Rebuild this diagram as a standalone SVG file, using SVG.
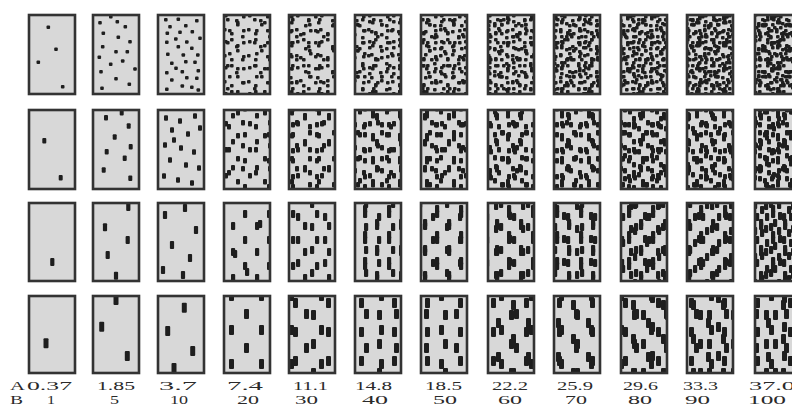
<svg xmlns="http://www.w3.org/2000/svg" width="792" height="407" viewBox="0 0 792 407">
<style>
.bg{fill:#d8d8d8}
.fr{fill:none;stroke:#333;stroke-width:2.6}
.d{fill:#1e1e1e}
.t{font-family:"Liberation Serif","Times New Roman",serif;font-size:12px;fill:#2a2a2a}
</style>
<defs>
<pattern id="p1a" width="24" height="26" patternUnits="userSpaceOnUse"><g class="d"><rect x="2" y="3" width="3.6" height="3.6" rx="1"/><rect x="14" y="6" width="3.6" height="3.6" rx="1"/><rect x="8" y="14" width="3.6" height="3.6" rx="1"/><rect x="19" y="19" width="3.6" height="3.6" rx="1"/></g></pattern>
<pattern id="p1b" width="27" height="23" patternUnits="userSpaceOnUse"><g class="d"><rect x="5" y="2" width="3.6" height="3.6" rx="1"/><rect x="18" y="8" width="3.6" height="3.6" rx="1"/><rect x="3" y="14" width="3.6" height="3.6" rx="1"/><rect x="13" y="17" width="3.6" height="3.6" rx="1"/></g></pattern>
<pattern id="p2a" width="24" height="26" patternUnits="userSpaceOnUse"><g class="d"><rect x="3" y="2" width="4" height="5.6" rx="1"/><rect x="15" y="9" width="4" height="5.6" rx="1"/><rect x="8" y="17" width="4" height="5.6" rx="1"/></g></pattern>
<pattern id="p2b" width="27" height="23" patternUnits="userSpaceOnUse"><g class="d"><rect x="4" y="5" width="4" height="5.6" rx="1"/><rect x="18" y="1" width="4" height="5.6" rx="1"/><rect x="13" y="14" width="4" height="5.6" rx="1"/></g></pattern>
<pattern id="p3a" width="24" height="26" patternUnits="userSpaceOnUse"><g class="d"><rect x="3" y="2" width="4.2" height="8" rx="1"/><rect x="15" y="14" width="4.2" height="8" rx="1"/></g></pattern>
<pattern id="p3b" width="27" height="23" patternUnits="userSpaceOnUse"><g class="d"><rect x="6" y="12" width="4.2" height="8" rx="1"/><rect x="19" y="2" width="4.2" height="8" rx="1"/></g></pattern>
<pattern id="p4a" width="30" height="34" patternUnits="userSpaceOnUse"><g class="d"><rect x="4" y="3" width="5" height="10" rx="1"/><rect x="19" y="19" width="5" height="10" rx="1"/></g></pattern>
<pattern id="p4b" width="33" height="29" patternUnits="userSpaceOnUse"><g class="d"><rect x="22" y="4" width="5" height="10" rx="1"/><rect x="7" y="16" width="5" height="10" rx="1"/></g></pattern>
</defs>
<rect width="792" height="407" fill="#fff"/>

<g id="panels-bg" class="bg">
<rect x="29" y="15" width="46" height="79"/><rect x="93" y="15" width="46" height="79"/><rect x="158" y="15" width="46" height="79"/><rect x="224" y="15" width="46" height="79"/><rect x="289" y="15" width="46" height="79"/><rect x="355" y="15" width="46" height="79"/><rect x="421" y="15" width="46" height="79"/><rect x="488" y="15" width="46" height="79"/><rect x="554" y="15" width="46" height="79"/><rect x="621" y="15" width="46" height="79"/><rect x="687" y="15" width="46" height="79"/><rect x="755" y="15" width="46" height="79"/>
<rect x="29" y="110" width="46" height="79"/><rect x="93" y="110" width="46" height="79"/><rect x="158" y="110" width="46" height="79"/><rect x="224" y="110" width="46" height="79"/><rect x="289" y="110" width="46" height="79"/><rect x="355" y="110" width="46" height="79"/><rect x="421" y="110" width="46" height="79"/><rect x="488" y="110" width="46" height="79"/><rect x="554" y="110" width="46" height="79"/><rect x="621" y="110" width="46" height="79"/><rect x="687" y="110" width="46" height="79"/><rect x="755" y="110" width="46" height="79"/>
<rect x="29" y="203" width="46" height="78"/><rect x="93" y="203" width="46" height="78"/><rect x="158" y="203" width="46" height="78"/><rect x="224" y="203" width="46" height="78"/><rect x="289" y="203" width="46" height="78"/><rect x="355" y="203" width="46" height="78"/><rect x="421" y="203" width="46" height="78"/><rect x="488" y="203" width="46" height="78"/><rect x="554" y="203" width="46" height="78"/><rect x="621" y="203" width="46" height="78"/><rect x="687" y="203" width="46" height="78"/><rect x="755" y="203" width="46" height="78"/>
<rect x="29" y="296" width="46" height="77"/><rect x="93" y="296" width="46" height="77"/><rect x="158" y="296" width="46" height="77"/><rect x="224" y="296" width="46" height="77"/><rect x="289" y="296" width="46" height="77"/><rect x="355" y="296" width="46" height="77"/><rect x="421" y="296" width="46" height="77"/><rect x="488" y="296" width="46" height="77"/><rect x="554" y="296" width="46" height="77"/><rect x="621" y="296" width="46" height="77"/><rect x="687" y="296" width="46" height="77"/><rect x="755" y="296" width="46" height="77"/>
</g>

<!-- Row 1 -->
<g id="r1c1" class="d">
<rect x="46.5" y="25.5" width="3.6" height="3.6" rx="1"/><rect x="54.2" y="47.5" width="3.6" height="3.6" rx="1"/><rect x="36.5" y="60.5" width="3.6" height="3.6" rx="1"/><rect x="60.9" y="84.9" width="3.6" height="3.6" rx="1"/>
</g>
<g id="r1c2" class="d">
<rect x="98.2" y="20.9" width="3.6" height="3.6" rx="1"/><rect x="115.5" y="19.9" width="3.6" height="3.6" rx="1"/><rect x="123.5" y="24.9" width="3.6" height="3.6" rx="1"/><rect x="101.5" y="31.5" width="3.6" height="3.6" rx="1"/><rect x="116.5" y="35.5" width="3.6" height="3.6" rx="1"/><rect x="128.2" y="39.9" width="3.6" height="3.6" rx="1"/><rect x="100.9" y="44.9" width="3.6" height="3.6" rx="1"/><rect x="114.2" y="49.9" width="3.6" height="3.6" rx="1"/><rect x="125.5" y="49.9" width="3.6" height="3.6" rx="1"/><rect x="97.5" y="55.5" width="3.6" height="3.6" rx="1"/><rect x="108.9" y="62.5" width="3.6" height="3.6" rx="1"/><rect x="120.9" y="59.2" width="3.6" height="3.6" rx="1"/><rect x="133.2" y="67.2" width="3.6" height="3.6" rx="1"/><rect x="99.2" y="69.9" width="3.6" height="3.6" rx="1"/><rect x="114.2" y="76.9" width="3.6" height="3.6" rx="1"/><rect x="127.5" y="82.5" width="3.6" height="3.6" rx="1"/><rect x="100.2" y="86.5" width="3.6" height="3.6" rx="1"/><rect x="109" y="15" width="3.6" height="3.6" rx="1"/>
</g>
<g id="r1c3" class="d">
<rect x="164" y="18" width="3.6" height="3.6" rx="1"/><rect x="176.5" y="17.5" width="3.6" height="3.6" rx="1"/><rect x="195" y="19" width="3.6" height="3.6" rx="1"/><rect x="168.2" y="25" width="3.6" height="3.6" rx="1"/><rect x="184" y="24" width="3.6" height="3.6" rx="1"/><rect x="165.5" y="31.5" width="3.6" height="3.6" rx="1"/><rect x="178.2" y="30.5" width="3.6" height="3.6" rx="1"/><rect x="190.5" y="30" width="3.6" height="3.6" rx="1"/><rect x="174" y="37.2" width="3.6" height="3.6" rx="1"/><rect x="198.2" y="36.5" width="3.6" height="3.6" rx="1"/><rect x="165" y="40.5" width="3.6" height="3.6" rx="1"/><rect x="185" y="40.2" width="3.6" height="3.6" rx="1"/><rect x="176.5" y="45" width="3.6" height="3.6" rx="1"/><rect x="190" y="46.5" width="3.6" height="3.6" rx="1"/><rect x="166" y="52.5" width="3.6" height="3.6" rx="1"/><rect x="181.5" y="53.2" width="3.6" height="3.6" rx="1"/><rect x="196" y="53.2" width="3.6" height="3.6" rx="1"/><rect x="184" y="60" width="3.6" height="3.6" rx="1"/><rect x="193.2" y="60.5" width="3.6" height="3.6" rx="1"/><rect x="170" y="61.5" width="3.6" height="3.6" rx="1"/><rect x="174.2" y="66.5" width="3.6" height="3.6" rx="1"/><rect x="165" y="71" width="3.6" height="3.6" rx="1"/><rect x="180.5" y="70" width="3.6" height="3.6" rx="1"/><rect x="196.5" y="69" width="3.6" height="3.6" rx="1"/><rect x="170" y="78.2" width="3.6" height="3.6" rx="1"/><rect x="185" y="76" width="3.6" height="3.6" rx="1"/><rect x="195" y="76.5" width="3.6" height="3.6" rx="1"/><rect x="180.5" y="84.2" width="3.6" height="3.6" rx="1"/><rect x="190" y="85.5" width="3.6" height="3.6" rx="1"/><rect x="165" y="87.5" width="3.6" height="3.6" rx="1"/><rect x="196.5" y="88.2" width="3.6" height="3.6" rx="1"/>
</g>
<g id="r1c4">
<rect x="225" y="16" width="44" height="77" fill="url(#p1a)"/>
<rect x="218" y="12" width="44" height="77" fill="url(#p1b)" transform="translate(7 4)"/>
<rect x="213" y="7" width="44" height="77" fill="url(#p1a)" transform="translate(12 9)"/>
</g>
<g id="r1c5">
<rect x="290" y="16" width="44" height="77" fill="url(#p1a)"/>
<rect x="283" y="12" width="44" height="77" fill="url(#p1b)" transform="translate(7 4)"/>
<rect x="278" y="7" width="44" height="77" fill="url(#p1a)" transform="translate(12 9)"/>
<rect x="274" y="0" width="44" height="77" fill="url(#p1b)" transform="translate(16 16)"/>
</g>
<g id="r1c6">
<rect x="356" y="16" width="44" height="77" fill="url(#p1a)"/>
<rect x="349" y="12" width="44" height="77" fill="url(#p1b)" transform="translate(7 4)"/>
<rect x="344" y="7" width="44" height="77" fill="url(#p1a)" transform="translate(12 9)"/>
<rect x="340" y="0" width="44" height="77" fill="url(#p1b)" transform="translate(16 16)"/>
<rect x="350" y="-1" width="44" height="77" fill="url(#p1a)" transform="translate(6 17)"/>
</g>
<g id="r1c7">
<rect x="422" y="16" width="44" height="77" fill="url(#p1a)"/>
<rect x="415" y="12" width="44" height="77" fill="url(#p1b)" transform="translate(7 4)"/>
<rect x="410" y="7" width="44" height="77" fill="url(#p1a)" transform="translate(12 9)"/>
<rect x="406" y="0" width="44" height="77" fill="url(#p1b)" transform="translate(16 16)"/>
<rect x="416" y="-1" width="44" height="77" fill="url(#p1a)" transform="translate(6 17)"/>
<rect x="397" y="6" width="44" height="77" fill="url(#p1b)" transform="translate(25 10)"/>
</g>
<g id="r1c8">
<rect x="489" y="16" width="44" height="77" fill="url(#p1a)"/>
<rect x="482" y="12" width="44" height="77" fill="url(#p1b)" transform="translate(7 4)"/>
<rect x="477" y="7" width="44" height="77" fill="url(#p1a)" transform="translate(12 9)"/>
<rect x="473" y="0" width="44" height="77" fill="url(#p1b)" transform="translate(16 16)"/>
<rect x="483" y="-1" width="44" height="77" fill="url(#p1a)" transform="translate(6 17)"/>
<rect x="464" y="6" width="44" height="77" fill="url(#p1b)" transform="translate(25 10)"/>
<rect x="471" y="13" width="44" height="77" fill="url(#p1a)" transform="translate(18 3)"/>
</g>
<g id="r1c9">
<rect x="555" y="16" width="44" height="77" fill="url(#p1a)"/>
<rect x="548" y="12" width="44" height="77" fill="url(#p1b)" transform="translate(7 4)"/>
<rect x="543" y="7" width="44" height="77" fill="url(#p1a)" transform="translate(12 9)"/>
<rect x="539" y="0" width="44" height="77" fill="url(#p1b)" transform="translate(16 16)"/>
<rect x="549" y="-1" width="44" height="77" fill="url(#p1a)" transform="translate(6 17)"/>
<rect x="530" y="6" width="44" height="77" fill="url(#p1b)" transform="translate(25 10)"/>
<rect x="537" y="13" width="44" height="77" fill="url(#p1a)" transform="translate(18 3)"/>
<rect x="545" y="-5" width="44" height="77" fill="url(#p1b)" transform="translate(10 21)"/>
</g>
<g id="r1c10">
<rect x="622" y="16" width="44" height="77" fill="url(#p1a)"/>
<rect x="615" y="12" width="44" height="77" fill="url(#p1b)" transform="translate(7 4)"/>
<rect x="610" y="7" width="44" height="77" fill="url(#p1a)" transform="translate(12 9)"/>
<rect x="606" y="0" width="44" height="77" fill="url(#p1b)" transform="translate(16 16)"/>
<rect x="616" y="-1" width="44" height="77" fill="url(#p1a)" transform="translate(6 17)"/>
<rect x="597" y="6" width="44" height="77" fill="url(#p1b)" transform="translate(25 10)"/>
<rect x="604" y="13" width="44" height="77" fill="url(#p1a)" transform="translate(18 3)"/>
<rect x="612" y="-5" width="44" height="77" fill="url(#p1b)" transform="translate(10 21)"/>
<rect x="619" y="4" width="44" height="77" fill="url(#p1a)" transform="translate(3 12)"/>
</g>
<g id="r1c11">
<rect x="688" y="16" width="44" height="77" fill="url(#p1a)"/>
<rect x="681" y="12" width="44" height="77" fill="url(#p1b)" transform="translate(7 4)"/>
<rect x="676" y="7" width="44" height="77" fill="url(#p1a)" transform="translate(12 9)"/>
<rect x="672" y="0" width="44" height="77" fill="url(#p1b)" transform="translate(16 16)"/>
<rect x="682" y="-1" width="44" height="77" fill="url(#p1a)" transform="translate(6 17)"/>
<rect x="663" y="6" width="44" height="77" fill="url(#p1b)" transform="translate(25 10)"/>
<rect x="670" y="13" width="44" height="77" fill="url(#p1a)" transform="translate(18 3)"/>
<rect x="678" y="-5" width="44" height="77" fill="url(#p1b)" transform="translate(10 21)"/>
<rect x="685" y="4" width="44" height="77" fill="url(#p1a)" transform="translate(3 12)"/>
<rect x="669" y="9" width="44" height="77" fill="url(#p1b)" transform="translate(19 7)"/>
</g>
<g id="r1c12">
<rect x="756" y="16" width="44" height="77" fill="url(#p1a)"/>
<rect x="749" y="12" width="44" height="77" fill="url(#p1b)" transform="translate(7 4)"/>
<rect x="744" y="7" width="44" height="77" fill="url(#p1a)" transform="translate(12 9)"/>
<rect x="740" y="0" width="44" height="77" fill="url(#p1b)" transform="translate(16 16)"/>
<rect x="750" y="-1" width="44" height="77" fill="url(#p1a)" transform="translate(6 17)"/>
<rect x="731" y="6" width="44" height="77" fill="url(#p1b)" transform="translate(25 10)"/>
<rect x="738" y="13" width="44" height="77" fill="url(#p1a)" transform="translate(18 3)"/>
<rect x="746" y="-5" width="44" height="77" fill="url(#p1b)" transform="translate(10 21)"/>
<rect x="753" y="4" width="44" height="77" fill="url(#p1a)" transform="translate(3 12)"/>
<rect x="737" y="9" width="44" height="77" fill="url(#p1b)" transform="translate(19 7)"/>
<rect x="741" y="-4" width="44" height="77" fill="url(#p1a)" transform="translate(15 20)"/>
</g>

<!-- Row 2 -->
<g id="r2c1" class="d">
<rect x="42.3" y="137.9" width="4" height="5.6" rx="1"/><rect x="58.7" y="174.9" width="4" height="5.6" rx="1"/>
</g>
<g id="r2c2" class="d">
<rect x="104" y="115" width="4" height="5.6" rx="1"/><rect x="119.7" y="110" width="4" height="5.6" rx="1"/><rect x="126.7" y="123.2" width="4" height="5.6" rx="1"/><rect x="112.7" y="134.2" width="4" height="5.6" rx="1"/><rect x="128.7" y="144" width="4" height="5.6" rx="1"/><rect x="104.7" y="149" width="4" height="5.6" rx="1"/><rect x="122.7" y="155.5" width="4" height="5.6" rx="1"/><rect x="101.7" y="167.2" width="4" height="5.6" rx="1"/><rect x="128.3" y="175.5" width="4" height="5.6" rx="1"/>
</g>
<g id="r2c3" class="d">
<rect x="164" y="115.2" width="4" height="5.6" rx="1"/><rect x="178" y="118.2" width="4" height="5.6" rx="1"/><rect x="193" y="113.2" width="4" height="5.6" rx="1"/><rect x="170" y="127.2" width="4" height="5.6" rx="1"/><rect x="186" y="131.2" width="4" height="5.6" rx="1"/><rect x="198" y="125.2" width="4" height="5.6" rx="1"/><rect x="163" y="142.2" width="4" height="5.6" rx="1"/><rect x="179" y="145.2" width="4" height="5.6" rx="1"/><rect x="192" y="149.2" width="4" height="5.6" rx="1"/><rect x="168" y="157.2" width="4" height="5.6" rx="1"/><rect x="184" y="162.2" width="4" height="5.6" rx="1"/><rect x="197" y="165.2" width="4" height="5.6" rx="1"/><rect x="162" y="173.2" width="4" height="5.6" rx="1"/><rect x="176" y="177.2" width="4" height="5.6" rx="1"/><rect x="190" y="180.2" width="4" height="5.6" rx="1"/><rect x="172" y="137.2" width="4" height="5.6" rx="1"/>
</g>
<g id="r2c4">
<rect x="225" y="111" width="44" height="77" fill="url(#p2a)"/>
<rect x="218" y="107" width="44" height="77" fill="url(#p2b)" transform="translate(7 4)"/>
</g>
<g id="r2c5">
<rect x="290" y="111" width="44" height="77" fill="url(#p2a)"/>
<rect x="283" y="107" width="44" height="77" fill="url(#p2b)" transform="translate(7 4)"/>
<rect x="278" y="102" width="44" height="77" fill="url(#p2a)" transform="translate(12 9)"/>
</g>
<g id="r2c6">
<rect x="356" y="111" width="44" height="77" fill="url(#p2a)"/>
<rect x="349" y="107" width="44" height="77" fill="url(#p2b)" transform="translate(7 4)"/>
<rect x="344" y="102" width="44" height="77" fill="url(#p2a)" transform="translate(12 9)"/>
<rect x="340" y="95" width="44" height="77" fill="url(#p2b)" transform="translate(16 16)"/>
</g>
<g id="r2c7">
<rect x="422" y="111" width="44" height="77" fill="url(#p2a)"/>
<rect x="415" y="107" width="44" height="77" fill="url(#p2b)" transform="translate(7 4)"/>
<rect x="410" y="102" width="44" height="77" fill="url(#p2a)" transform="translate(12 9)"/>
<rect x="406" y="95" width="44" height="77" fill="url(#p2b)" transform="translate(16 16)"/>
</g>
<g id="r2c8">
<rect x="489" y="111" width="44" height="77" fill="url(#p2a)"/>
<rect x="482" y="107" width="44" height="77" fill="url(#p2b)" transform="translate(7 4)"/>
<rect x="477" y="102" width="44" height="77" fill="url(#p2a)" transform="translate(12 9)"/>
<rect x="473" y="95" width="44" height="77" fill="url(#p2b)" transform="translate(16 16)"/>
<rect x="483" y="94" width="44" height="77" fill="url(#p2a)" transform="translate(6 17)"/>
</g>
<g id="r2c9">
<rect x="555" y="111" width="44" height="77" fill="url(#p2a)"/>
<rect x="548" y="107" width="44" height="77" fill="url(#p2b)" transform="translate(7 4)"/>
<rect x="543" y="102" width="44" height="77" fill="url(#p2a)" transform="translate(12 9)"/>
<rect x="539" y="95" width="44" height="77" fill="url(#p2b)" transform="translate(16 16)"/>
<rect x="549" y="94" width="44" height="77" fill="url(#p2a)" transform="translate(6 17)"/>
</g>
<g id="r2c10">
<rect x="622" y="111" width="44" height="77" fill="url(#p2a)"/>
<rect x="615" y="107" width="44" height="77" fill="url(#p2b)" transform="translate(7 4)"/>
<rect x="610" y="102" width="44" height="77" fill="url(#p2a)" transform="translate(12 9)"/>
<rect x="606" y="95" width="44" height="77" fill="url(#p2b)" transform="translate(16 16)"/>
<rect x="616" y="94" width="44" height="77" fill="url(#p2a)" transform="translate(6 17)"/>
<rect x="597" y="101" width="44" height="77" fill="url(#p2b)" transform="translate(25 10)"/>
</g>
<g id="r2c11">
<rect x="688" y="111" width="44" height="77" fill="url(#p2a)"/>
<rect x="681" y="107" width="44" height="77" fill="url(#p2b)" transform="translate(7 4)"/>
<rect x="676" y="102" width="44" height="77" fill="url(#p2a)" transform="translate(12 9)"/>
<rect x="672" y="95" width="44" height="77" fill="url(#p2b)" transform="translate(16 16)"/>
<rect x="682" y="94" width="44" height="77" fill="url(#p2a)" transform="translate(6 17)"/>
<rect x="663" y="101" width="44" height="77" fill="url(#p2b)" transform="translate(25 10)"/>
</g>
<g id="r2c12">
<rect x="756" y="111" width="44" height="77" fill="url(#p2a)"/>
<rect x="749" y="107" width="44" height="77" fill="url(#p2b)" transform="translate(7 4)"/>
<rect x="744" y="102" width="44" height="77" fill="url(#p2a)" transform="translate(12 9)"/>
<rect x="740" y="95" width="44" height="77" fill="url(#p2b)" transform="translate(16 16)"/>
<rect x="750" y="94" width="44" height="77" fill="url(#p2a)" transform="translate(6 17)"/>
<rect x="731" y="101" width="44" height="77" fill="url(#p2b)" transform="translate(25 10)"/>
<rect x="738" y="108" width="44" height="77" fill="url(#p2a)" transform="translate(18 3)"/>
</g>

<!-- Row 3 -->
<g id="r3c1" class="d">
<rect x="50.2" y="258" width="4.2" height="8" rx="1"/>
</g>
<g id="r3c2" class="d">
<rect x="126.2" y="203" width="4.2" height="8" rx="1"/><rect x="102.9" y="223.3" width="4.2" height="8" rx="1"/><rect x="125.6" y="236" width="4.2" height="8" rx="1"/><rect x="105.6" y="251" width="4.2" height="8" rx="1"/><rect x="113.9" y="271.7" width="4.2" height="8" rx="1"/>
</g>
<g id="r3c3" class="d">
<rect x="162.9" y="211" width="4.2" height="8" rx="1"/><rect x="182.9" y="204" width="4.2" height="8" rx="1"/><rect x="193.9" y="226" width="4.2" height="8" rx="1"/><rect x="169.9" y="241" width="4.2" height="8" rx="1"/><rect x="187.9" y="254" width="4.2" height="8" rx="1"/><rect x="160.9" y="266" width="4.2" height="8" rx="1"/><rect x="180.9" y="271" width="4.2" height="8" rx="1"/>
</g>
<g id="r3c4">
<rect x="225" y="204" width="44" height="76" fill="url(#p3a)"/>
<g class="d"><rect x="233" y="250" width="4.2" height="8" rx="1"/><rect x="258" y="220" width="4.2" height="8" rx="1"/><rect x="245" y="268" width="4.2" height="8" rx="1"/></g>
</g>
<g id="r3c5">
<rect x="290" y="204" width="44" height="76" fill="url(#p3a)"/>
<rect x="283" y="200" width="44" height="76" fill="url(#p3b)" transform="translate(7 4)"/>
</g>
<g id="r3c6">
<rect x="356" y="204" width="44" height="76" fill="url(#p3a)"/>
<rect x="349" y="200" width="44" height="76" fill="url(#p3b)" transform="translate(7 4)"/>
<rect x="344" y="195" width="44" height="76" fill="url(#p3a)" transform="translate(12 9)"/>
</g>
<g id="r3c7">
<rect x="422" y="204" width="44" height="76" fill="url(#p3a)"/>
<rect x="415" y="200" width="44" height="76" fill="url(#p3b)" transform="translate(7 4)"/>
<rect x="410" y="195" width="44" height="76" fill="url(#p3a)" transform="translate(12 9)"/>
</g>
<g id="r3c8">
<rect x="489" y="204" width="44" height="76" fill="url(#p3a)"/>
<rect x="482" y="200" width="44" height="76" fill="url(#p3b)" transform="translate(7 4)"/>
<rect x="477" y="195" width="44" height="76" fill="url(#p3a)" transform="translate(12 9)"/>
<rect x="473" y="188" width="44" height="76" fill="url(#p3b)" transform="translate(16 16)"/>
</g>
<g id="r3c9">
<rect x="555" y="204" width="44" height="76" fill="url(#p3a)"/>
<rect x="548" y="200" width="44" height="76" fill="url(#p3b)" transform="translate(7 4)"/>
<rect x="543" y="195" width="44" height="76" fill="url(#p3a)" transform="translate(12 9)"/>
<rect x="539" y="188" width="44" height="76" fill="url(#p3b)" transform="translate(16 16)"/>
</g>
<g id="r3c10">
<rect x="622" y="204" width="44" height="76" fill="url(#p3a)"/>
<rect x="615" y="200" width="44" height="76" fill="url(#p3b)" transform="translate(7 4)"/>
<rect x="610" y="195" width="44" height="76" fill="url(#p3a)" transform="translate(12 9)"/>
<rect x="606" y="188" width="44" height="76" fill="url(#p3b)" transform="translate(16 16)"/>
<rect x="616" y="187" width="44" height="76" fill="url(#p3a)" transform="translate(6 17)"/>
</g>
<g id="r3c11">
<rect x="688" y="204" width="44" height="76" fill="url(#p3a)"/>
<rect x="681" y="200" width="44" height="76" fill="url(#p3b)" transform="translate(7 4)"/>
<rect x="676" y="195" width="44" height="76" fill="url(#p3a)" transform="translate(12 9)"/>
<rect x="672" y="188" width="44" height="76" fill="url(#p3b)" transform="translate(16 16)"/>
<rect x="682" y="187" width="44" height="76" fill="url(#p3a)" transform="translate(6 17)"/>
</g>
<g id="r3c12">
<rect x="756" y="204" width="44" height="76" fill="url(#p3a)"/>
<rect x="749" y="200" width="44" height="76" fill="url(#p3b)" transform="translate(7 4)"/>
<rect x="744" y="195" width="44" height="76" fill="url(#p3a)" transform="translate(12 9)"/>
<rect x="740" y="188" width="44" height="76" fill="url(#p3b)" transform="translate(16 16)"/>
<rect x="750" y="187" width="44" height="76" fill="url(#p3a)" transform="translate(6 17)"/>
<rect x="731" y="194" width="44" height="76" fill="url(#p3b)" transform="translate(25 10)"/>
</g>

<!-- Row 4 -->
<g id="r4c1" class="d">
<rect x="43.5" y="338.3" width="5" height="10" rx="1"/>
</g>
<g id="r4c2" class="d">
<rect x="113.5" y="295" width="5" height="10" rx="1"/><rect x="99.2" y="321.7" width="5" height="10" rx="1"/><rect x="124.8" y="351" width="5" height="10" rx="1"/>
</g>
<g id="r4c3" class="d">
<rect x="181.8" y="302.7" width="5" height="10" rx="1"/><rect x="165.2" y="326" width="5" height="10" rx="1"/><rect x="190.2" y="346" width="5" height="10" rx="1"/><rect x="171.5" y="363" width="5" height="10" rx="1"/>
</g>
<g id="r4c4">
<rect x="225" y="297" width="44" height="75" fill="url(#p4a)"/>
</g>
<g id="r4c5">
<rect x="290" y="297" width="44" height="75" fill="url(#p4a)"/>
<rect x="283" y="293" width="44" height="75" fill="url(#p4b)" transform="translate(7 4)"/>
</g>
<g id="r4c6">
<rect x="356" y="297" width="44" height="75" fill="url(#p4a)"/>
<rect x="349" y="293" width="44" height="75" fill="url(#p4b)" transform="translate(7 4)"/>
</g>
<g id="r4c7">
<rect x="422" y="297" width="44" height="75" fill="url(#p4a)"/>
<rect x="415" y="293" width="44" height="75" fill="url(#p4b)" transform="translate(7 4)"/>
</g>
<g id="r4c8">
<rect x="489" y="297" width="44" height="75" fill="url(#p4a)"/>
<rect x="482" y="293" width="44" height="75" fill="url(#p4b)" transform="translate(7 4)"/>
<rect x="477" y="288" width="44" height="75" fill="url(#p4a)" transform="translate(12 9)"/>
</g>
<g id="r4c9">
<rect x="555" y="297" width="44" height="75" fill="url(#p4a)"/>
<rect x="548" y="293" width="44" height="75" fill="url(#p4b)" transform="translate(7 4)"/>
<rect x="543" y="288" width="44" height="75" fill="url(#p4a)" transform="translate(12 9)"/>
</g>
<g id="r4c10">
<rect x="622" y="297" width="44" height="75" fill="url(#p4a)"/>
<rect x="615" y="293" width="44" height="75" fill="url(#p4b)" transform="translate(7 4)"/>
<rect x="610" y="288" width="44" height="75" fill="url(#p4a)" transform="translate(12 9)"/>
<rect x="606" y="281" width="44" height="75" fill="url(#p4b)" transform="translate(16 16)"/>
</g>
<g id="r4c11">
<rect x="688" y="297" width="44" height="75" fill="url(#p4a)"/>
<rect x="681" y="293" width="44" height="75" fill="url(#p4b)" transform="translate(7 4)"/>
<rect x="676" y="288" width="44" height="75" fill="url(#p4a)" transform="translate(12 9)"/>
<rect x="672" y="281" width="44" height="75" fill="url(#p4b)" transform="translate(16 16)"/>
</g>
<g id="r4c12">
<rect x="756" y="297" width="44" height="75" fill="url(#p4a)"/>
<rect x="749" y="293" width="44" height="75" fill="url(#p4b)" transform="translate(7 4)"/>
<rect x="744" y="288" width="44" height="75" fill="url(#p4a)" transform="translate(12 9)"/>
<rect x="740" y="281" width="44" height="75" fill="url(#p4b)" transform="translate(16 16)"/>
</g>

<g id="frames" class="fr">
<rect x="29" y="15" width="46" height="79"/><rect x="93" y="15" width="46" height="79"/><rect x="158" y="15" width="46" height="79"/><rect x="224" y="15" width="46" height="79"/><rect x="289" y="15" width="46" height="79"/><rect x="355" y="15" width="46" height="79"/><rect x="421" y="15" width="46" height="79"/><rect x="488" y="15" width="46" height="79"/><rect x="554" y="15" width="46" height="79"/><rect x="621" y="15" width="46" height="79"/><rect x="687" y="15" width="46" height="79"/><rect x="755" y="15" width="46" height="79"/>
<rect x="29" y="110" width="46" height="79"/><rect x="93" y="110" width="46" height="79"/><rect x="158" y="110" width="46" height="79"/><rect x="224" y="110" width="46" height="79"/><rect x="289" y="110" width="46" height="79"/><rect x="355" y="110" width="46" height="79"/><rect x="421" y="110" width="46" height="79"/><rect x="488" y="110" width="46" height="79"/><rect x="554" y="110" width="46" height="79"/><rect x="621" y="110" width="46" height="79"/><rect x="687" y="110" width="46" height="79"/><rect x="755" y="110" width="46" height="79"/>
<rect x="29" y="203" width="46" height="78"/><rect x="93" y="203" width="46" height="78"/><rect x="158" y="203" width="46" height="78"/><rect x="224" y="203" width="46" height="78"/><rect x="289" y="203" width="46" height="78"/><rect x="355" y="203" width="46" height="78"/><rect x="421" y="203" width="46" height="78"/><rect x="488" y="203" width="46" height="78"/><rect x="554" y="203" width="46" height="78"/><rect x="621" y="203" width="46" height="78"/><rect x="687" y="203" width="46" height="78"/><rect x="755" y="203" width="46" height="78"/>
<rect x="29" y="296" width="46" height="77"/><rect x="93" y="296" width="46" height="77"/><rect x="158" y="296" width="46" height="77"/><rect x="224" y="296" width="46" height="77"/><rect x="289" y="296" width="46" height="77"/><rect x="355" y="296" width="46" height="77"/><rect x="421" y="296" width="46" height="77"/><rect x="488" y="296" width="46" height="77"/><rect x="554" y="296" width="46" height="77"/><rect x="621" y="296" width="46" height="77"/><rect x="687" y="296" width="46" height="77"/><rect x="755" y="296" width="46" height="77"/>
</g>

<g id="labels" class="t">
<text x="10" y="389.5" textLength="15" lengthAdjust="spacingAndGlyphs">A</text>
<text x="27" y="389.5" textLength="45" lengthAdjust="spacingAndGlyphs">0.37</text>
<text x="97" y="389.5" textLength="38" lengthAdjust="spacingAndGlyphs">1.85</text>
<text x="159" y="389.5" textLength="38" lengthAdjust="spacingAndGlyphs">3.7</text>
<text x="227" y="389.5" textLength="36" lengthAdjust="spacingAndGlyphs">7.4</text>
<text x="293" y="389.5" textLength="35" lengthAdjust="spacingAndGlyphs">11.1</text>
<text x="355" y="389.5" textLength="37" lengthAdjust="spacingAndGlyphs">14.8</text>
<text x="425" y="389.5" textLength="37" lengthAdjust="spacingAndGlyphs">18.5</text>
<text x="492" y="389.5" textLength="36" lengthAdjust="spacingAndGlyphs">22.2</text>
<text x="557" y="389.5" textLength="36" lengthAdjust="spacingAndGlyphs">25.9</text>
<text x="623" y="389.5" textLength="35" lengthAdjust="spacingAndGlyphs">29.6</text>
<text x="683" y="389.5" textLength="35" lengthAdjust="spacingAndGlyphs">33.3</text>
<text x="749" y="389.5" textLength="46" lengthAdjust="spacingAndGlyphs">37.0</text>
<text x="10" y="403.5" textLength="13" lengthAdjust="spacingAndGlyphs">B</text>
<text x="47" y="403.5" textLength="8" lengthAdjust="spacingAndGlyphs">1</text>
<text x="110" y="403.5" textLength="9" lengthAdjust="spacingAndGlyphs">5</text>
<text x="170" y="403.5" textLength="18" lengthAdjust="spacingAndGlyphs">10</text>
<text x="237" y="403.5" textLength="22" lengthAdjust="spacingAndGlyphs">20</text>
<text x="295" y="403.5" textLength="23" lengthAdjust="spacingAndGlyphs">30</text>
<text x="362" y="403.5" textLength="26" lengthAdjust="spacingAndGlyphs">40</text>
<text x="433" y="403.5" textLength="24" lengthAdjust="spacingAndGlyphs">50</text>
<text x="498" y="403.5" textLength="24" lengthAdjust="spacingAndGlyphs">60</text>
<text x="565" y="403.5" textLength="22" lengthAdjust="spacingAndGlyphs">70</text>
<text x="628" y="403.5" textLength="24" lengthAdjust="spacingAndGlyphs">80</text>
<text x="685" y="403.5" textLength="25" lengthAdjust="spacingAndGlyphs">90</text>
<text x="748" y="403.5" textLength="38" lengthAdjust="spacingAndGlyphs">100</text>
</g>
</svg>
